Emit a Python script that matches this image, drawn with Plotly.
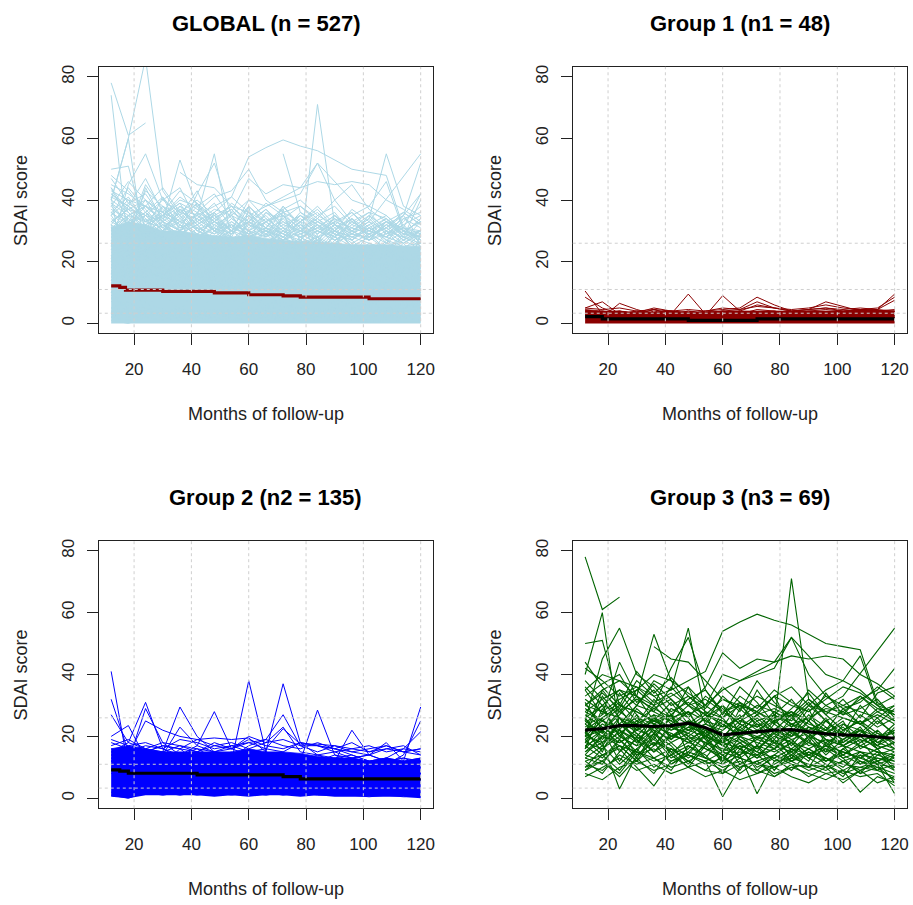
import plotly.graph_objects as go

# ---------------- data ----------------
MONTHS = [12, 18, 24, 30, 36, 42, 48, 54, 60, 66, 72, 78, 84, 90, 96, 102, 108, 114, 120]
X_TICKS = [20, 40, 60, 80, 100, 120]
Y_TICKS = [0, 20, 40, 60, 80]
SDAI_CUTOFFS = [3.3, 11, 26]

TITLES = ["GLOBAL (n = 527)", "Group 1 (n1 = 48)", "Group 2 (n2 = 135)", "Group 3 (n3 = 69)"]
X_LABEL = "Months of follow-up"
Y_LABEL = "SDAI score"

N = None
# Group 3 (high activity) individual trajectories
GROUP3 = [
    [78, 61, 65, N, N, N, N, N, N, N, N, N, N, N, N, N, N, N, N],
    [50, 51, 30, 28, 25, 22, 24, 20, 18, 21, 24, 22, 20, 25, 19, 18, 22, 17, 15],
    [25, 45, 55, 40, 36, 30, 33, 28, 26, 30, 28, 25, 27, 24, 22, 26, 24, 20, 21],
    [30, 35, 38, 36, 33, 35, 38, 41, 54, 57, 59.5, 57.5, 56, 53, 50, 49, 48, 31, 27],
    [20, 25, 22, 18, 24, 20, 22, 26, 30, 25, 28, 24, 71, 32, 27, 22, 25, 21, 18],
    [28, 32, 35, 30, 38, 35, 55, 27, 25, 22, 20, 18, 16, 20, 22, 19, 17, 15, 14],
    [35, 40, 38, 33, 30, 42, 52, 35, 28, 30, 25, 27, 24, 22, 25, 20, 22, 18, 20],
    [N, N, N, N, 49, 45, 44, 38, 32, 30, 28, 33, 36, 30, 28, 26, 24, 28, 25],
    [22, 26, 30, 28, 25, 27, 24, 22, 20, 25, 23, 26, 28, 25, 30, 33, N, N, 55],
    [40, 60, 22, 30, 28, 25, 30, 27, 24, 20, 22, 18, 20, 23, 19, 17, 20, 16, 18],
    [18, 22, 28, 35, 40, 38, 30, 36, 47, 42, 45, 44, 52, 46, 40, 38, 35, 30, 28],
    [15, 20, 18, 22, 25, 23, 20, 24, 22, 26, 30, 28, 25, 30, 35, 38, 46, 30, 25],
    [20, 18, 24, 22, 20, 26, 22, 20, 18, 24, 21, 27, 23, 26, 29, 28, 32, 35, 42],
    [30, 28, 32, 35, 30, 33, 36, 30, 35, 38, 40, 42, 52, 40, 33, 30, 28, 26, 30],
    [26, 30, 35, 33, 53, 38, 34, 30, 40, 38, 41, 44, 46, 45, 46, 45, 40, 37, 33],
    [10, 12, 8, 15, 12, 14, 10, 12, 9, 13, 11, 10, 12, 9, 11, 8, 10, 9, 7],
    [8, 6, 10, 12, 9, 11, 14, 12, 0.5, 10, 12, 8, 10, 11, 9, 12, 8, 10, 6],
    [15, 18, 3, 14, 16, 12, 15, 13, 11, 14, 1.5, 12, 13, 11, 10, 12, 9, 11, 10],
    [12, 14, 16, 10, 4, 12, 14, 11, 13, 10, 12, 14, 11, 10, 8, 9, 2, 7, 5],
    [18, 16, 20, 17, 19, 15, 18, 16, 14, 17, 15, 13, 16, 14, 12, 15, 13, 11, 1.5],
    [20, 22, 18, 21, 17, 20, 19, 22, 18, 16, 19, 17, 15, 18, 16, 14, 17, 15, 13],
    [24, 20, 22, 19, 23, 21, 18, 20, 17, 19, 16, 20, 18, 16, 19, 17, 15, 14, 16],
    [14, 12, 17, 15, 13, 16, 14, 12, 15, 13, 11, 14, 12, 15, 13, 11, 10, 12, 9],
    [28, 25, 23, 26, 24, 22, 25, 23, 20, 22, 19, 21, 24, 20, 18, 21, 19, 17, 20],
    [32, 28, 26, 24, 27, 25, 22, 24, 21, 18, 20, 22, 19, 21, 17, 19, 22, 18, 16],
    [16, 22, 12, 20, 15, 18, 13, 17, 12, 15, 14, 10, 13, 16, 12, 14, 11, 13, 11],
    [22, 15, 26, 18, 22, 14, 20, 16, 13, 18, 14, 16, 12, 14, 17, 13, 15, 12, 14],
    [11, 9, 14, 11, 13, 10, 12, 9, 8, 11, 9, 7, 10, 8, 6, 9, 7, 8, 4],
    [36, 30, 28, 32, 29, 26, 28, 25, 23, 26, 22, 25, 28, 23, 21, 24, 22, 20, 22],
    [19, 24, 21, 25, 22, 19, 23, 21, 17, 20, 18, 16, 21, 18, 15, 17, 20, 16, 18],
    [26, 19, 24, 20, 26, 23, 21, 18, 16, 14, 17, 15, 18, 13, 16, 12, 14, 13, 12],
    [13, 17, 11, 16, 10, 14, 17, 13, 10, 12, 8, 11, 14, 10, 13, 9, 12, 10, 8],
    [42, 38, 33, 36, 31, 34, 30, 32, 28, 31, 27, 29, 26, 31, 25, 28, 24, 29, 27],
    [17, 13, 19, 14, 18, 16, 12, 15, 19, 11, 14, 18, 12, 16, 13, 10, 15, 11, 13],
    [9, 14, 17, 12, 20, 13, 16, 22, 15, 18, 13, 16, 19, 14, 17, 15, 13, 16, 10],
    [30, 34, 29, 38, 33, 28, 31, 27, 32, 29, 33, 30, 27, 32, 28, 30, 33, 29, 28],
    [23, 27, 31, 25, 29, 32, 27, 30, 26, 33, 29, 35, 31, 28, 32, 36, 34, 30, 33],
    [20, 33, 26, 22, 30, 24, 28, 20, 25, 22, 26, 21, 18, 25, 20, 23, 18, 21, 19],
    [7, 10, 13, 9, 11, 8, 10, 7, 9, 6, 8, 10, 7, 5, 8, 6, 9, 5, 7],
    [21, 17, 24, 19, 15, 21, 18, 23, 17, 14, 20, 16, 22, 17, 19, 14, 18, 22, 17],
    [27, 23, 19, 29, 24, 27, 20, 18, 22, 27, 17, 24, 20, 27, 23, 20, 27, 23, 26],
    [16, 29, 20, 17, 27, 19, 25, 21, 12, 20, 25, 19, 26, 21, 15, 24, 20, 25, 21],
    [25, 21, 34, 27, 21, 29, 26, 19, 28, 24, 21, 27, 15, 20, 26, 18, 22, 17, 23],
    [33, 37, 40, 31, 35, 27, 32, 35, 27, 36, 31, 24, 29, 34, 27, 32, 26, 34, 36],
    [12, 8, 15, 19, 13, 9, 17, 14, 8, 16, 10, 13, 9, 15, 11, 7, 14, 9, 11],
    [19, 14, 9, 16, 21, 17, 11, 18, 14, 9, 17, 12, 15, 10, 18, 13, 8, 14, 12],
    [14, 20, 17, 12, 17, 24, 19, 13, 20, 16, 13, 19, 14, 19, 12, 16, 19, 12, 15],
    [29, 25, 29, 22, 26, 20, 23, 27, 19, 23, 27, 22, 17, 23, 21, 25, 16, 19, 24],
    [35, 27, 44, 33, 28, 36, 30, 25, 33, 28, 38, 31, 26, 35, 30, 27, 33, 28, 30],
    [18, 26, 15, 23, 19, 27, 14, 21, 26, 19, 15, 22, 27, 19, 23, 17, 21, 26, 20],
    [24, 30, 20, 27, 17, 23, 28, 19, 15, 23, 19, 25, 21, 29, 17, 22, 25, 18, 22],
    [13, 11, 19, 13, 21, 15, 10, 17, 21, 13, 17, 9, 16, 12, 21, 17, 11, 15, 9],
    [31, 22, 27, 33, 25, 31, 24, 28, 23, 31, 23, 28, 24, 26, 22, 29, 24, 27, 24],
    [21, 35, 28, 24, 32, 26, 36, 24, 30, 21, 27, 33, 23, 30, 25, 21, 30, 24, 29],
    [10, 16, 22, 14, 18, 11, 15, 20, 11, 17, 9, 14, 18, 13, 10, 16, 12, 9, 14],
    [38, 32, 24, 30, 37, 32, 26, 33, 29, 24, 35, 27, 32, 25, 34, 27, 29, 32, 26],
    [17, 20, 26, 21, 15, 20, 24, 17, 24, 20, 16, 21, 13, 20, 14, 19, 23, 16, 18],
    [26, 18, 21, 15, 23, 18, 21, 26, 18, 29, 24, 18, 22, 18, 25, 21, 17, 20, 16],
    [44, 36, 30, 41, 34, 39, 33, 29, 36, 31, 28, 33, 30, 28, 33, 29, 31, 36, 32],
    [9, 12, 7, 13, 8, 16, 12, 9, 14, 8, 12, 7, 11, 7, 10, 5, 9, 12, 5],
]

# Group 2 (moderate) individual trajectories
GROUP2 = [
    [41, 10, 12, 9, 11, 8, 10, 9, 7, 8, 10, 7, 9, 6, 8, 7, 5, 6, 5],
    [32, 15, 13, 11, 14, 10, 12, 9, 11, 8, 10, 9, 7, 10, 8, 6, 9, 7, 6],
    [27, 18, 31, 16, 13, 15, 12, 14, 11, 13, 10, 12, 9, 11, 10, 8, 9, 7, 8],
    [20, 23.5, 13, 15, 12, 14, 11, 13, 12, 10, 13, 11, 9, 12, 10, 11, 8, 10, 9],
    [15, 12, 29, 18, 14, 16, 13, 15, 12, 14, 11, 13, 12, 10, 12, 9, 11, 10, 8],
    [12, 14, 25, 22, 20, 19, 19.5, 19, 19.5, 15, 13, 14, 12, 13, 11, 12, 10, 11, 9],
    [14, 11, 13, 15, 29.5, 20, 15, 13, 14, 12, 11, 13, 12, 10, 11, 9, 10, 8, 9],
    [10, 13, 12, 14, 23, 17, 28, 16, 14, 12, 13, 11, 10, 12, 9, 11, 8, 10, 7],
    [11, 9, 12, 10, 13, 11, 14, 12, 38, 15, 13, 11, 12, 10, 11, 9, 10, 8, 9],
    [9, 11, 10, 12, 11, 13, 12, 14, 13, 15, 37, 18, 14, 12, 13, 11, 10, 12, 10],
    [13, 12, 14, 11, 16, 12, 15, 13, 17, 19, 27, 17, 17, 16, 14, 12, 13, 11, 12],
    [8, 10, 9, 11, 10, 12, 11, 13, 12, 14, 13, 12, 28.5, 14, 12, 11, 13, 10, 11],
    [12, 10, 13, 11, 12, 10, 13, 12, 11, 13, 12, 14, 13, 12, 22, 14, 12, 13, 11],
    [10, 12, 11, 13, 12, 11, 10, 12, 13, 11, 12, 13, 12, 11, 13, 14, 18, 12, 13],
    [11, 13, 12, 10, 13, 12, 14, 11, 12, 13, 11, 12, 14, 13, 12, 11, 13, 12, 29.5],
    [13, 11, 14, 12, 11, 13, 12, 14, 11, 12, 13, 11, 12, 14, 13, 12, 11, 14, 25],
    [12, 14, 13, 12, 14, 11, 13, 12, 14, 13, 12, 14, 11, 13, 14, 12, 13, 16, 21.5],
    [16, 15, 17, 16, 14, 17, 15, 16, 18, 16, 22.5, 17.5, 17.5, 17, 15, 14, 16, 15, 14],
    [17, 19, 16, 18, 17, 15, 18, 16, 19, 17, 16, 18, 17, 15, 16, 17, 15, 16, 15],
    [19, 17, 18, 16, 19, 18, 16, 17, 18, 19, 17, 16, 18, 16, 15, 16, 17, 15, 16],
    [18, 16, 15, 17, 16, 19, 17, 18, 16, 18, 19, 17, 15, 17, 16, 15, 16, 17, 14],
    [14, 16, 15, 17, 16, 15, 17, 16, 20, 18, 23, 15, 14, 15, 13, 14, 12, 13, 12],
    [15, 18, 16, 15, 17, 16, 15, 17, 15, 16, 15, 18, 17, 16, 18, 15, 17, 15, 16],
    [2, 1, 3, 2, 1, 2, 1, 2, 1, 2, 1, 2, 1, 1, 2, 1, 1, 2, 1],
    [1, 0, 2, 1, 2, 1, 2, 1, 2, 1, 2, 1, 2, 1, 1, 0.5, 1, 0.5, 0.5],
]

# Group 1 (remission) individual trajectories
GROUP1 = [
    [10.5, 3, 4, 3, 2.5, 3, 2, 3, 2.5, 2, 3, 2.5, 3, 2, 2.5, 3, 2, 2.5, 3],
    [8.5, 5, 3, 4, 3, 2.5, 3, 2, 3, 2.5, 2, 3, 2, 3, 2.5, 2, 3, 2, 2.5],
    [5, 7, 3, 2.5, 4, 3, 2, 3, 2.5, 3, 2, 2.5, 3, 2.5, 2, 3, 2, 3, 2],
    [4, 2, 6.5, 4.5, 3, 4, 3.5, 3, 4, 3, 3.5, 4, 3, 4, 3.5, 3, 4, 3.5, 4],
    [3, 2, 3, 2.5, 3, 3, 9.5, 3, 2.5, 3, 2, 3, 2.5, 2, 3, 2.5, 2, 3, 2.5],
    [2, 3, 2.5, 3, 2, 2.5, 3, 2.5, 9, 4, 3, 2.5, 3, 2, 2.5, 3, 2.5, 2, 3],
    [3, 4, 3, 3.5, 5, 4, 3, 4, 4.5, 5, 8.5, 6, 4, 4.5, 5, 4, 4.5, 4, 4.5],
    [4, 3.5, 4, 3, 4.5, 3, 4, 3.5, 4, 4.5, 7, 5, 4, 4.5, 7, 5.5, 4, 4.5, 9.5],
    [3.5, 4, 3, 4, 3.5, 4, 3, 4, 3.5, 4, 6, 5, 4.5, 5, 6, 5, 4.5, 5, 8.5],
    [5, 4.5, 5, 4, 4.5, 4, 4.5, 4, 5, 4.5, 5.5, 5, 4, 4.5, 5, 4.5, 5, 4.5, 7.5],
    [2, 3, 2, 3, 4.5, 3, 4, 3, 4, 3, 4.5, 4, 3, 4, 4.5, 4, 4.5, 4, 4],
]

# Remaining patients (only in the global panel)
OTHERS = [
    [40, 60, 86, 43, 35, 30, 28, 32, 27, 25, 30, 26, 24, 28, 25, 22, 26, 24, 20],
    [74, 25, 30, 28, 26, 24, 27, 25, 22, 26, 23, 21, 24, 22, 20, 25, 23, 21, 19],
    [N, N, N, N, N, N, N, N, N, N, 55, 36, 33, 30, 28, 31, 27, 25, 26],
    [26, 30, 28, 32, 29, 27, 31, 28, 26, 29, 27, 30, 28, 32, 30, 34, 55, 38, 35],
    [45, 42, 38, 44, 36, 40, 35, 38, 33, 37, 32, 35, 30, 34, 31, 29, 33, 30, 28],
    [38, 46, 40, 35, 41, 37, 33, 39, 35, 31, 36, 33, 38, 32, 29, 35, 31, 27, 30],
    [33, 30, 45, 37, 32, 38, 42, 34, 30, 36, 33, 29, 31, 35, 30, 27, 32, 29, 34],
    [42, 37, 35, 40, 44, 33, 37, 35, 40, 34, 30, 36, 32, 29, 34, 30, 28, 31, 26],
    [36, 41, 33, 38, 35, 43, 31, 36, 33, 39, 35, 31, 34, 30, 37, 33, 30, 26, 29],
    [47, 39, 42, 34, 38, 32, 36, 41, 36, 30, 34, 38, 33, 36, 29, 32, 35, 30, 33],
    [31, 35, 38, 33, 30, 35, 32, 29, 34, 31, 38, 32, 29, 33, 31, 35, 29, 33, 38],
    [40, 36, 31, 35, 39, 30, 34, 37, 31, 35, 29, 33, 37, 31, 34, 28, 31, 35, 27],
    [35, 44, 37, 31, 36, 34, 39, 31, 38, 33, 36, 30, 35, 38, 32, 30, 34, 28, 40],
    [44, 33, 40, 36, 33, 39, 30, 35, 32, 37, 31, 35, 32, 28, 33, 36, 30, 34, 31],
    [30, 38, 34, 29, 37, 31, 35, 30, 33, 29, 34, 28, 31, 35, 30, 27, 33, 36, 32],
    [39, 32, 36, 41, 30, 36, 33, 37, 30, 34, 30, 34, 29, 33, 36, 31, 28, 32, 35],
    [48, 43, 36, 30, 34, 29, 33, 30, 35, 28, 32, 30, 34, 29, 27, 31, 34, 29, 30],
    [34, 29, 43, 38, 31, 33, 29, 34, 30, 33, 28, 31, 27, 32, 29, 33, 27, 31, 29],
    [37, 34, 30, 33, 37, 35, 30, 28, 38, 32, 29, 27, 33, 30, 34, 28, 32, 27, 33],
    [43, 40, 33, 35, 32, 29, 33, 31, 29, 33, 35, 29, 32, 27, 30, 34, 29, 31, 42],
    [29, 33, 36, 32, 28, 34, 30, 33, 29, 31, 27, 30, 33, 29, 27, 31, 28, 35, 52],
    [33, 37, 32, 35, 39, 36, 41, 43, 50, 40, 36, 38, 34, 40, 45, 37, 33, 31, 30],
    [41, 38, 47, 36, 43, 39, 34, 38, 36, 33, 37, 40, 35, 32, 36, 30, 33, 29, 34],
    [39, 35, 33, 31, 29, 32, 35, 30, 28, 31, 29, 26, 30, 27, 31, 29, 26, 30, 28],
    [36, 32, 38, 34, 30, 28, 31, 29, 33, 30, 27, 32, 28, 30, 26, 29, 31, 27, 30],
    [32, 39, 35, 30, 33, 31, 29, 32, 30, 28, 31, 28, 30, 27, 29, 27, 30, 28, 26],
]

# Densely overplotted cores (lower / upper edge of the solid mass) per visit
GLOBAL_CORE_LOW = [0, 0, 0, 0, 0, 0, 0, 0, 0, 0, 0, 0, 0, 0, 0, 0, 0, 0, 0]
GLOBAL_CORE_HIGH = [31, 33, 32, 30, 30, 29, 28.5, 28, 28.5, 27.5, 27, 26.5, 26.5, 26, 25.5, 25.5, 25.5, 25, 25]
G1_CORE_LOW = [0, 0, 0, 0, 0, 0, 0, 0, 0, 0, 0, 0, 0, 0, 0, 0, 0, 0, 0]
G1_CORE_HIGH = [4.5, 4, 4, 3.5, 3.5, 4, 3.5, 3.5, 4, 4, 4, 4, 4, 4, 4, 4, 4.5, 4.5, 4]
G2_CORE_LOW = [0.5, 0, 1, 1, 1, 1, 0.5, 1, 0.5, 1, 1, 0.5, 1, 0.5, 0.5, 0.5, 0.5, 0.5, 0]
G2_CORE_HIGH = [16, 17, 16, 15, 15, 15, 15, 15, 16, 15, 15, 14.5, 13.5, 13, 13, 12, 13, 12, 13]

# Mean trajectories
GLOBAL_MEAN_MONTHS = [12, 15, 17, 30, 48, 60, 72, 78, 102, 120]
GLOBAL_MEAN = [12.2, 11.7, 10.8, 10.4, 9.9, 9.3, 8.9, 8.5, 8.0, 8.0]
G1_MEAN_MONTHS = [12, 18, 48, 72, 120]
G1_MEAN = [2.2, 1.5, 1.0, 1.5, 1.5]
G2_MEAN_MONTHS = [12, 15, 18, 42, 72, 78, 120]
G2_MEAN = [9.2, 8.8, 8.1, 7.6, 7.0, 6.3, 6.3]
G3_MEAN = [22, 22.5, 23.5, 23.5, 23.2, 23.5, 24.3, 22.8, 20.5, 21, 21.5, 22, 22.2, 21.5, 20.8, 20.5, 20.3, 19.8, 19.4]

# ---------------- styling ----------------
FONT = "Liberation Sans, Arial, sans-serif"
W, H = 913, 905
# panel boxes in pixels: (left, right, top, bottom)
BOXES = [(99, 434, 65, 332), (574, 909, 65, 332), (99, 434, 540, 808), (574, 909, 540, 808)]
XR = [7.68, 124.32]
YR = [-3.2, 83.2]


def spaghetti(rows):
    xs, ys = [], []
    for row in rows:
        for m, v in zip(MONTHS, row):
            if v is not None:
                xs.append(m)
                ys.append(v)
        xs.append(None)
        ys.append(None)
    return xs, ys


fig = go.Figure()


def add_panel(k, rows, color, core, mean_x, mean_y, mean_color, mean_shape, lw=1.0):
    xa = "x" if k == 0 else f"x{k+1}"
    ya = "y" if k == 0 else f"y{k+1}"
    if core is not None:
        lo, hi = core
        fig.add_trace(go.Scatter(x=MONTHS, y=lo, mode="lines", line=dict(width=0, color=color),
                                 xaxis=xa, yaxis=ya, showlegend=False, hoverinfo="skip"))
        fig.add_trace(go.Scatter(x=MONTHS, y=hi, mode="lines", line=dict(width=0.8, color=color),
                                 fill="tonexty", fillcolor=color,
                                 xaxis=xa, yaxis=ya, showlegend=False, hoverinfo="skip"))
    xs, ys = spaghetti(rows)
    fig.add_trace(go.Scatter(x=xs, y=ys, mode="lines", line=dict(width=lw, color=color),
                             connectgaps=False, xaxis=xa, yaxis=ya, showlegend=False,
                             hoverinfo="skip"))
    fig.add_trace(go.Scatter(x=mean_x, y=mean_y, mode="lines",
                             line=dict(width=3.2, color=mean_color, shape=mean_shape),
                             xaxis=xa, yaxis=ya, showlegend=False))


ALL_ROWS = OTHERS + GROUP3 + GROUP2 + GROUP1
add_panel(0, ALL_ROWS, "#ADD8E6", (GLOBAL_CORE_LOW, GLOBAL_CORE_HIGH),
          GLOBAL_MEAN_MONTHS, GLOBAL_MEAN, "#8B0000", "hv")
add_panel(1, GROUP1, "#8B0000", (G1_CORE_LOW, G1_CORE_HIGH),
          G1_MEAN_MONTHS, G1_MEAN, "#000000", "hv")
add_panel(2, GROUP2, "#0000FF", (G2_CORE_LOW, G2_CORE_HIGH),
          G2_MEAN_MONTHS, G2_MEAN, "#000000", "hv")
add_panel(3, GROUP3, "#006400", None, MONTHS, G3_MEAN, "#000000", "linear", lw=1.1)

layout = dict(width=W, height=H, margin=dict(l=0, r=0, t=0, b=0),
              paper_bgcolor="white", plot_bgcolor="white",
              font=dict(family=FONT, color="#1a1a1a"))
shapes = []
annotations = []
for k, (l, r, t, b) in enumerate(BOXES):
    sx = "" if k == 0 else str(k + 1)
    xdom = [l / W, r / W]
    ydom = [1 - b / H, 1 - t / H]
    common = dict(showline=True, mirror=True, linecolor="#222", linewidth=1.3,
                  ticks="outside", ticklen=11, tickwidth=1.3, tickcolor="#222",
                  showgrid=False, zeroline=False,
                  tickfont=dict(size=17, family=FONT, color="#222"))
    layout["xaxis" + sx] = dict(domain=xdom, range=XR, tickvals=X_TICKS,
                                anchor="y" + sx, ticklabelstandoff=9, **common)
    layout["yaxis" + sx] = dict(domain=ydom, range=YR, tickvals=Y_TICKS, tickangle=-90,
                                anchor="x" + sx, ticklabelstandoff=6, **common)
    xr = "x" + sx
    yr = "y" + sx
    for v in X_TICKS:
        shapes.append(dict(type="line", xref=xr, yref=yr + " domain", x0=v, x1=v, y0=0, y1=1,
                           line=dict(color="#cfcfcf", width=1, dash="dot"), layer="above"))
    for c in SDAI_CUTOFFS:
        shapes.append(dict(type="line", xref=xr + " domain", yref=yr, x0=0, x1=1, y0=c, y1=c,
                           line=dict(color="#cfcfcf", width=1, dash="dot"), layer="above"))
    cx = (l + r) / 2 / W
    annotations.append(dict(text="<b>" + TITLES[k] + "</b>", x=cx, y=1 - (t - 43) / H,
                            xref="paper", yref="paper", xanchor="center", yanchor="middle",
                            showarrow=False, font=dict(size=22, family=FONT, color="black")))
    annotations.append(dict(text=X_LABEL, x=cx, y=1 - (b + 81) / H,
                            xref="paper", yref="paper", xanchor="center", yanchor="middle",
                            showarrow=False, font=dict(size=18, family=FONT, color="#222")))
    annotations.append(dict(text=Y_LABEL, x=(l - 78) / W, y=1 - (t + b) / 2 / H,
                            xref="paper", yref="paper", xanchor="center", yanchor="middle",
                            textangle=-90, showarrow=False,
                            font=dict(size=18, family=FONT, color="#222")))
layout["shapes"] = shapes
layout["annotations"] = annotations
fig.update_layout(**layout)
fig.write_html(
    "out.html",
    config={"displayModeBar": False},
    post_script="document.body.style.margin='0';document.body.style.overflow='hidden';",
)
